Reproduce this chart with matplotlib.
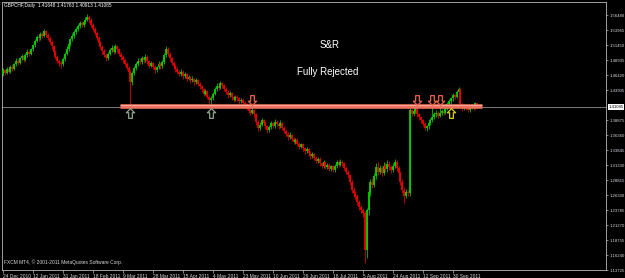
import matplotlib
matplotlib.use("Agg")
import matplotlib.pyplot as plt
import matplotlib.transforms as mtransforms
from matplotlib.path import Path
import numpy as np

# ---- daily GBPCHF candles (24 Dec 2010 .. Oct 2011)
closes = [
    1.472, 1.468, 1.475, 1.470, 1.478, 1.474, 1.482, 1.488, 1.485, 1.492, 1.496, 1.490, 1.498, 1.503, 1.500, 1.507,
    1.514, 1.522, 1.528, 1.526, 1.533, 1.530, 1.538, 1.532, 1.527, 1.520, 1.512, 1.503, 1.495, 1.488, 1.484, 1.482,
    1.491, 1.500, 1.508, 1.516, 1.524, 1.530, 1.536, 1.541, 1.546, 1.551, 1.548, 1.553, 1.557, 1.561, 1.556, 1.548,
    1.542, 1.535, 1.527, 1.518, 1.511, 1.504, 1.498, 1.492, 1.500, 1.506, 1.510, 1.503, 1.512, 1.507, 1.500, 1.494,
    1.490, 1.483, 1.476, 1.470, 1.452, 1.468, 1.476, 1.482, 1.488, 1.486, 1.492, 1.489, 1.495, 1.487, 1.480, 1.484,
    1.478, 1.472, 1.477, 1.483, 1.479, 1.486, 1.497, 1.508, 1.500, 1.492, 1.485, 1.479, 1.474, 1.470, 1.466, 1.470,
    1.462, 1.466, 1.458, 1.461, 1.455, 1.458, 1.452, 1.456, 1.449, 1.445, 1.440, 1.433, 1.437, 1.428, 1.422, 1.426,
    1.433, 1.440, 1.446, 1.443, 1.450, 1.447, 1.441, 1.436, 1.430, 1.434, 1.427, 1.423, 1.428, 1.425, 1.420, 1.423,
    1.418, 1.415, 1.410, 1.404, 1.401, 1.406, 1.398, 1.385, 1.376, 1.381, 1.388, 1.384, 1.378, 1.372, 1.377, 1.383,
    1.379, 1.386, 1.382, 1.378, 1.384, 1.376, 1.371, 1.366, 1.360, 1.364, 1.357, 1.352, 1.356, 1.349, 1.344, 1.348,
    1.341, 1.336, 1.340, 1.333, 1.328, 1.332, 1.325, 1.320, 1.324, 1.316, 1.312, 1.318, 1.310, 1.314, 1.307, 1.311,
    1.305, 1.312, 1.318, 1.314, 1.319, 1.316, 1.309, 1.302, 1.296, 1.285, 1.272, 1.266, 1.262, 1.251, 1.243, 1.238,
    1.232, 1.170, 1.238, 1.268, 1.285, 1.280, 1.295, 1.310, 1.302, 1.308, 1.300, 1.312, 1.306, 1.315, 1.310, 1.305,
    1.312, 1.318, 1.308, 1.300, 1.285, 1.272, 1.262, 1.268, 1.266, 1.405, 1.399, 1.404, 1.412, 1.398, 1.393, 1.388,
    1.382, 1.376, 1.378, 1.383, 1.389, 1.394, 1.398, 1.401, 1.396, 1.400, 1.404, 1.401, 1.408, 1.416, 1.420, 1.425,
    1.430, 1.428, 1.436, 1.440, 1.415, 1.408, 1.413, 1.410, 1.406, 1.410, 1.412, 1.409, 1.4165, 1.41085,
]
highs = [
    1.476, 1.475, 1.478, 1.479, 1.481, 1.482, 1.485, 1.492, 1.491, 1.495, 1.500, 1.499, 1.501, 1.507, 1.506, 1.510,
    1.517, 1.525, 1.532, 1.531, 1.537, 1.536, 1.542, 1.540, 1.535, 1.529, 1.523, 1.515, 1.506, 1.498, 1.491, 1.487,
    1.494, 1.503, 1.512, 1.519, 1.527, 1.534, 1.540, 1.545, 1.550, 1.555, 1.554, 1.557, 1.561, 1.566, 1.564, 1.559,
    1.551, 1.545, 1.538, 1.530, 1.521, 1.514, 1.507, 1.501, 1.503, 1.510, 1.514, 1.513, 1.516, 1.515, 1.510, 1.503,
    1.497, 1.493, 1.486, 1.479, 1.473, 1.471, 1.480, 1.486, 1.492, 1.493, 1.496, 1.495, 1.499, 1.497, 1.490, 1.488,
    1.486, 1.481, 1.480, 1.487, 1.486, 1.490, 1.501, 1.513, 1.511, 1.503, 1.495, 1.488, 1.482, 1.477, 1.473, 1.474,
    1.472, 1.469, 1.468, 1.465, 1.463, 1.462, 1.460, 1.459, 1.458, 1.452, 1.448, 1.443, 1.440, 1.439, 1.431, 1.429,
    1.436, 1.444, 1.450, 1.449, 1.454, 1.453, 1.449, 1.444, 1.439, 1.437, 1.436, 1.430, 1.431, 1.431, 1.427, 1.426,
    1.425, 1.421, 1.417, 1.412, 1.407, 1.413, 1.408, 1.400, 1.388, 1.385, 1.392, 1.391, 1.387, 1.381, 1.380, 1.387,
    1.386, 1.390, 1.389, 1.385, 1.388, 1.386, 1.379, 1.374, 1.369, 1.368, 1.366, 1.360, 1.359, 1.358, 1.352, 1.351,
    1.350, 1.344, 1.343, 1.342, 1.336, 1.335, 1.334, 1.328, 1.327, 1.326, 1.319, 1.321, 1.320, 1.317, 1.316, 1.314,
    1.313, 1.315, 1.322, 1.321, 1.323, 1.322, 1.318, 1.311, 1.305, 1.298, 1.288, 1.276, 1.270, 1.265, 1.255, 1.247,
    1.242, 1.236, 1.242, 1.272, 1.290, 1.292, 1.300, 1.316, 1.318, 1.313, 1.312, 1.318, 1.316, 1.322, 1.320, 1.314,
    1.316, 1.324, 1.321, 1.311, 1.304, 1.289, 1.276, 1.273, 1.272, 1.410, 1.408, 1.407, 1.414, 1.418, 1.401, 1.396,
    1.391, 1.385, 1.381, 1.386, 1.392, 1.415, 1.402, 1.405, 1.404, 1.415, 1.407, 1.407, 1.411, 1.419, 1.424, 1.428,
    1.434, 1.433, 1.439, 1.444, 1.442, 1.418, 1.416, 1.415, 1.413, 1.413, 1.415, 1.414, 1.419, 1.41763,
]
lows = [
    1.463, 1.464, 1.466, 1.467, 1.468, 1.471, 1.472, 1.480, 1.481, 1.483, 1.489, 1.486, 1.488, 1.495, 1.496, 1.498,
    1.504, 1.511, 1.519, 1.522, 1.523, 1.526, 1.528, 1.528, 1.523, 1.516, 1.508, 1.499, 1.491, 1.484, 1.479, 1.476,
    1.480, 1.488, 1.497, 1.505, 1.513, 1.521, 1.527, 1.533, 1.538, 1.543, 1.544, 1.545, 1.550, 1.554, 1.552, 1.544,
    1.538, 1.531, 1.523, 1.514, 1.507, 1.499, 1.494, 1.487, 1.489, 1.497, 1.503, 1.499, 1.501, 1.503, 1.496, 1.490,
    1.485, 1.479, 1.472, 1.466, 1.414, 1.448, 1.465, 1.473, 1.479, 1.482, 1.483, 1.485, 1.486, 1.483, 1.476, 1.477,
    1.474, 1.468, 1.469, 1.474, 1.475, 1.476, 1.483, 1.494, 1.496, 1.488, 1.481, 1.475, 1.470, 1.466, 1.462, 1.463,
    1.458, 1.459, 1.454, 1.455, 1.451, 1.452, 1.448, 1.449, 1.445, 1.441, 1.436, 1.429, 1.430, 1.424, 1.418, 1.414,
    1.423, 1.430, 1.437, 1.439, 1.440, 1.443, 1.437, 1.432, 1.426, 1.427, 1.423, 1.419, 1.420, 1.421, 1.416, 1.417,
    1.414, 1.411, 1.406, 1.400, 1.397, 1.398, 1.394, 1.381, 1.371, 1.372, 1.378, 1.380, 1.374, 1.367, 1.369, 1.374,
    1.375, 1.376, 1.378, 1.374, 1.375, 1.372, 1.367, 1.362, 1.356, 1.357, 1.353, 1.348, 1.349, 1.345, 1.340, 1.341,
    1.337, 1.332, 1.333, 1.329, 1.324, 1.325, 1.321, 1.316, 1.317, 1.312, 1.308, 1.309, 1.306, 1.307, 1.303, 1.304,
    1.301, 1.302, 1.309, 1.310, 1.311, 1.312, 1.305, 1.298, 1.291, 1.280, 1.267, 1.260, 1.256, 1.246, 1.238, 1.232,
    1.226, 1.149, 1.158, 1.230, 1.262, 1.274, 1.276, 1.290, 1.297, 1.298, 1.295, 1.297, 1.301, 1.302, 1.305, 1.300,
    1.301, 1.308, 1.303, 1.295, 1.280, 1.266, 1.250, 1.258, 1.261, 1.262, 1.395, 1.396, 1.401, 1.394, 1.389, 1.384,
    1.378, 1.372, 1.371, 1.374, 1.380, 1.386, 1.391, 1.394, 1.392, 1.393, 1.397, 1.397, 1.398, 1.405, 1.410, 1.412,
    1.421, 1.424, 1.425, 1.432, 1.411, 1.404, 1.405, 1.406, 1.402, 1.403, 1.407, 1.405, 1.407, 1.40913,
]
first_open = 1.466
last_open = 1.41648
bid = 1.41085
bid_label = "1.41085"

date_labels = ["24 Dec 2010", "12 Jan 2011", "31 Jan 2011", "18 Feb 2011", "9 Mar 2011",
               "28 Mar 2011", "15 Apr 2011", "4 May 2011", "23 May 2011", "10 Jun 2011",
               "29 Jun 2011", "18 Jul 2011", "5 Aug 2011", "24 Aug 2011", "12 Sep 2011",
               "30 Sep 2011"]
bars_per_label = 16

price_ticks = [1.56480, 1.53965, 1.51450, 1.48935, 1.46420, 1.43905, 1.38875, 1.36360,
               1.33845, 1.31330, 1.28815, 1.26300, 1.23785, 1.21270, 1.18755, 1.16240, 1.13725]

sr_level = 1.4130
sr_start, sr_end = 62.5, 255.5
up_bars = [68, 111]
up_prices = [1.4005, 1.4005]
down_bars = [133, 221, 229, 233]
down_prices = [1.4231, 1.4231, 1.4231, 1.4231]
yellow_bars = [239]
yellow_prices = [1.4005]

header = "GBPCHF,Daily  1.41648 1.41763 1.40913 1.41085"
copyright_txt = "FXCM MT4, \u00a9 2001-2011 MetaQuotes Software Corp."

# ---- build candles
closes = np.array(closes)
highs = np.array(highs)
lows = np.array(lows)
opens = np.concatenate([[first_open], closes[:-1]])
opens[-1] = last_open
x = np.arange(len(closes))
up = closes >= opens
bull, bear = "#00d200", "#ee0000"
cols = np.where(up, bull, bear)

plt.rcParams["font.family"] = ["Liberation Sans", "DejaVu Sans"]
fig = plt.figure(figsize=(6.25, 2.78), dpi=100, facecolor="black")
ax = fig.add_axes([2 / 625, 8 / 278, 604 / 625, 268 / 278], facecolor="black")

ax.axhline(bid, color="#7a7a7a", lw=0.7, zorder=1)

body_lo = np.minimum(opens, closes)
body_hi = np.maximum(opens, closes)
body_hi = np.maximum(body_hi, body_lo + 0.0008)
ax.vlines(x, lows, highs, colors=cols, lw=0.55, zorder=2)
ax.vlines(x, body_lo, body_hi, colors=cols, lw=1.3, zorder=3)

# S&R band
ax.plot([sr_start, sr_end], [sr_level, sr_level], color="#ef735e", lw=3.3,
        solid_capstyle="butt", zorder=4)
ax.plot([sr_start, sr_end], [sr_level + 0.0006, sr_level + 0.0006], color="#ffb0a0",
        lw=0.6, solid_capstyle="butt", zorder=5)

# hollow arrows
up_arrow = Path([(0, 1), (0.85, 0.15), (0.38, 0.15), (0.38, -1), (-0.38, -1),
                 (-0.38, 0.15), (-0.85, 0.15), (0, 1)], closed=True)
down_arrow = Path([(0, -1), (0.85, -0.15), (0.38, -0.15), (0.38, 1), (-0.38, 1),
                   (-0.38, -0.15), (-0.85, -0.15), (0, -1)], closed=True)
ax.plot(up_bars, up_prices, ls="none", marker=up_arrow, ms=7, mfc="none",
        mec="#8fa58f", mew=0.9, zorder=6)
ax.plot(down_bars, down_prices, ls="none", marker=down_arrow, ms=7, mfc="none",
        mec="#e8604c", mew=0.9, zorder=6)
ax.plot(yellow_bars, yellow_prices, ls="none", marker=up_arrow, ms=7, mfc="none",
        mec="#d8d000", mew=0.9, zorder=6)

ax.text(174.4, 1.5145, "S&R", color="white", fontsize=7, ha="center", va="center")
ax.text(173.3, 1.4692, "Fully Rejected", color="white", fontsize=7, ha="center", va="center")

ax.set_xlim(-0.5, -0.5 + 604 / 1.875)
ax.set_ylim(1.13725, 1.5866)

# axes styling
for s in ax.spines.values():
    s.set_color("#b8b8b8")
    s.set_linewidth(0.6)
ax.yaxis.tick_right()
ax.set_yticks(price_ticks, [f"{v:.5f}" for v in price_ticks])
ax.tick_params(axis="y", colors="#b8b8b8", labelcolor="#d8d8e0", labelsize=3.1,
               length=1.5, width=0.5, pad=0.8)
ax.set_xticks(np.arange(len(date_labels)) * bars_per_label, date_labels)
ax.tick_params(axis="x", colors="#b8b8b8", labelcolor="#d8d8d8", labelsize=3.5,
               length=2, width=0.5, pad=0.8)
for lab in ax.get_xticklabels():
    lab.set_ha("left")

# current price box on the price scale
trans = mtransforms.blended_transform_factory(ax.transAxes, ax.transData)
ax.text(1.004, bid, bid_label, transform=trans, fontsize=3.1, color="black",
        ha="left", va="center", clip_on=False,
        bbox=dict(boxstyle="square,pad=0.2", fc="white", ec="white", lw=0))

fig.text(4 / 625, 1 - 6 / 278, header, color="white", fontsize=3.4, ha="left", va="center")
ax.text(0.003, 0.03, copyright_txt, transform=ax.transAxes, color="#d8d8d8",
        fontsize=3.5, ha="left", va="center")

fig.savefig("out.png", dpi=100, facecolor="black")
